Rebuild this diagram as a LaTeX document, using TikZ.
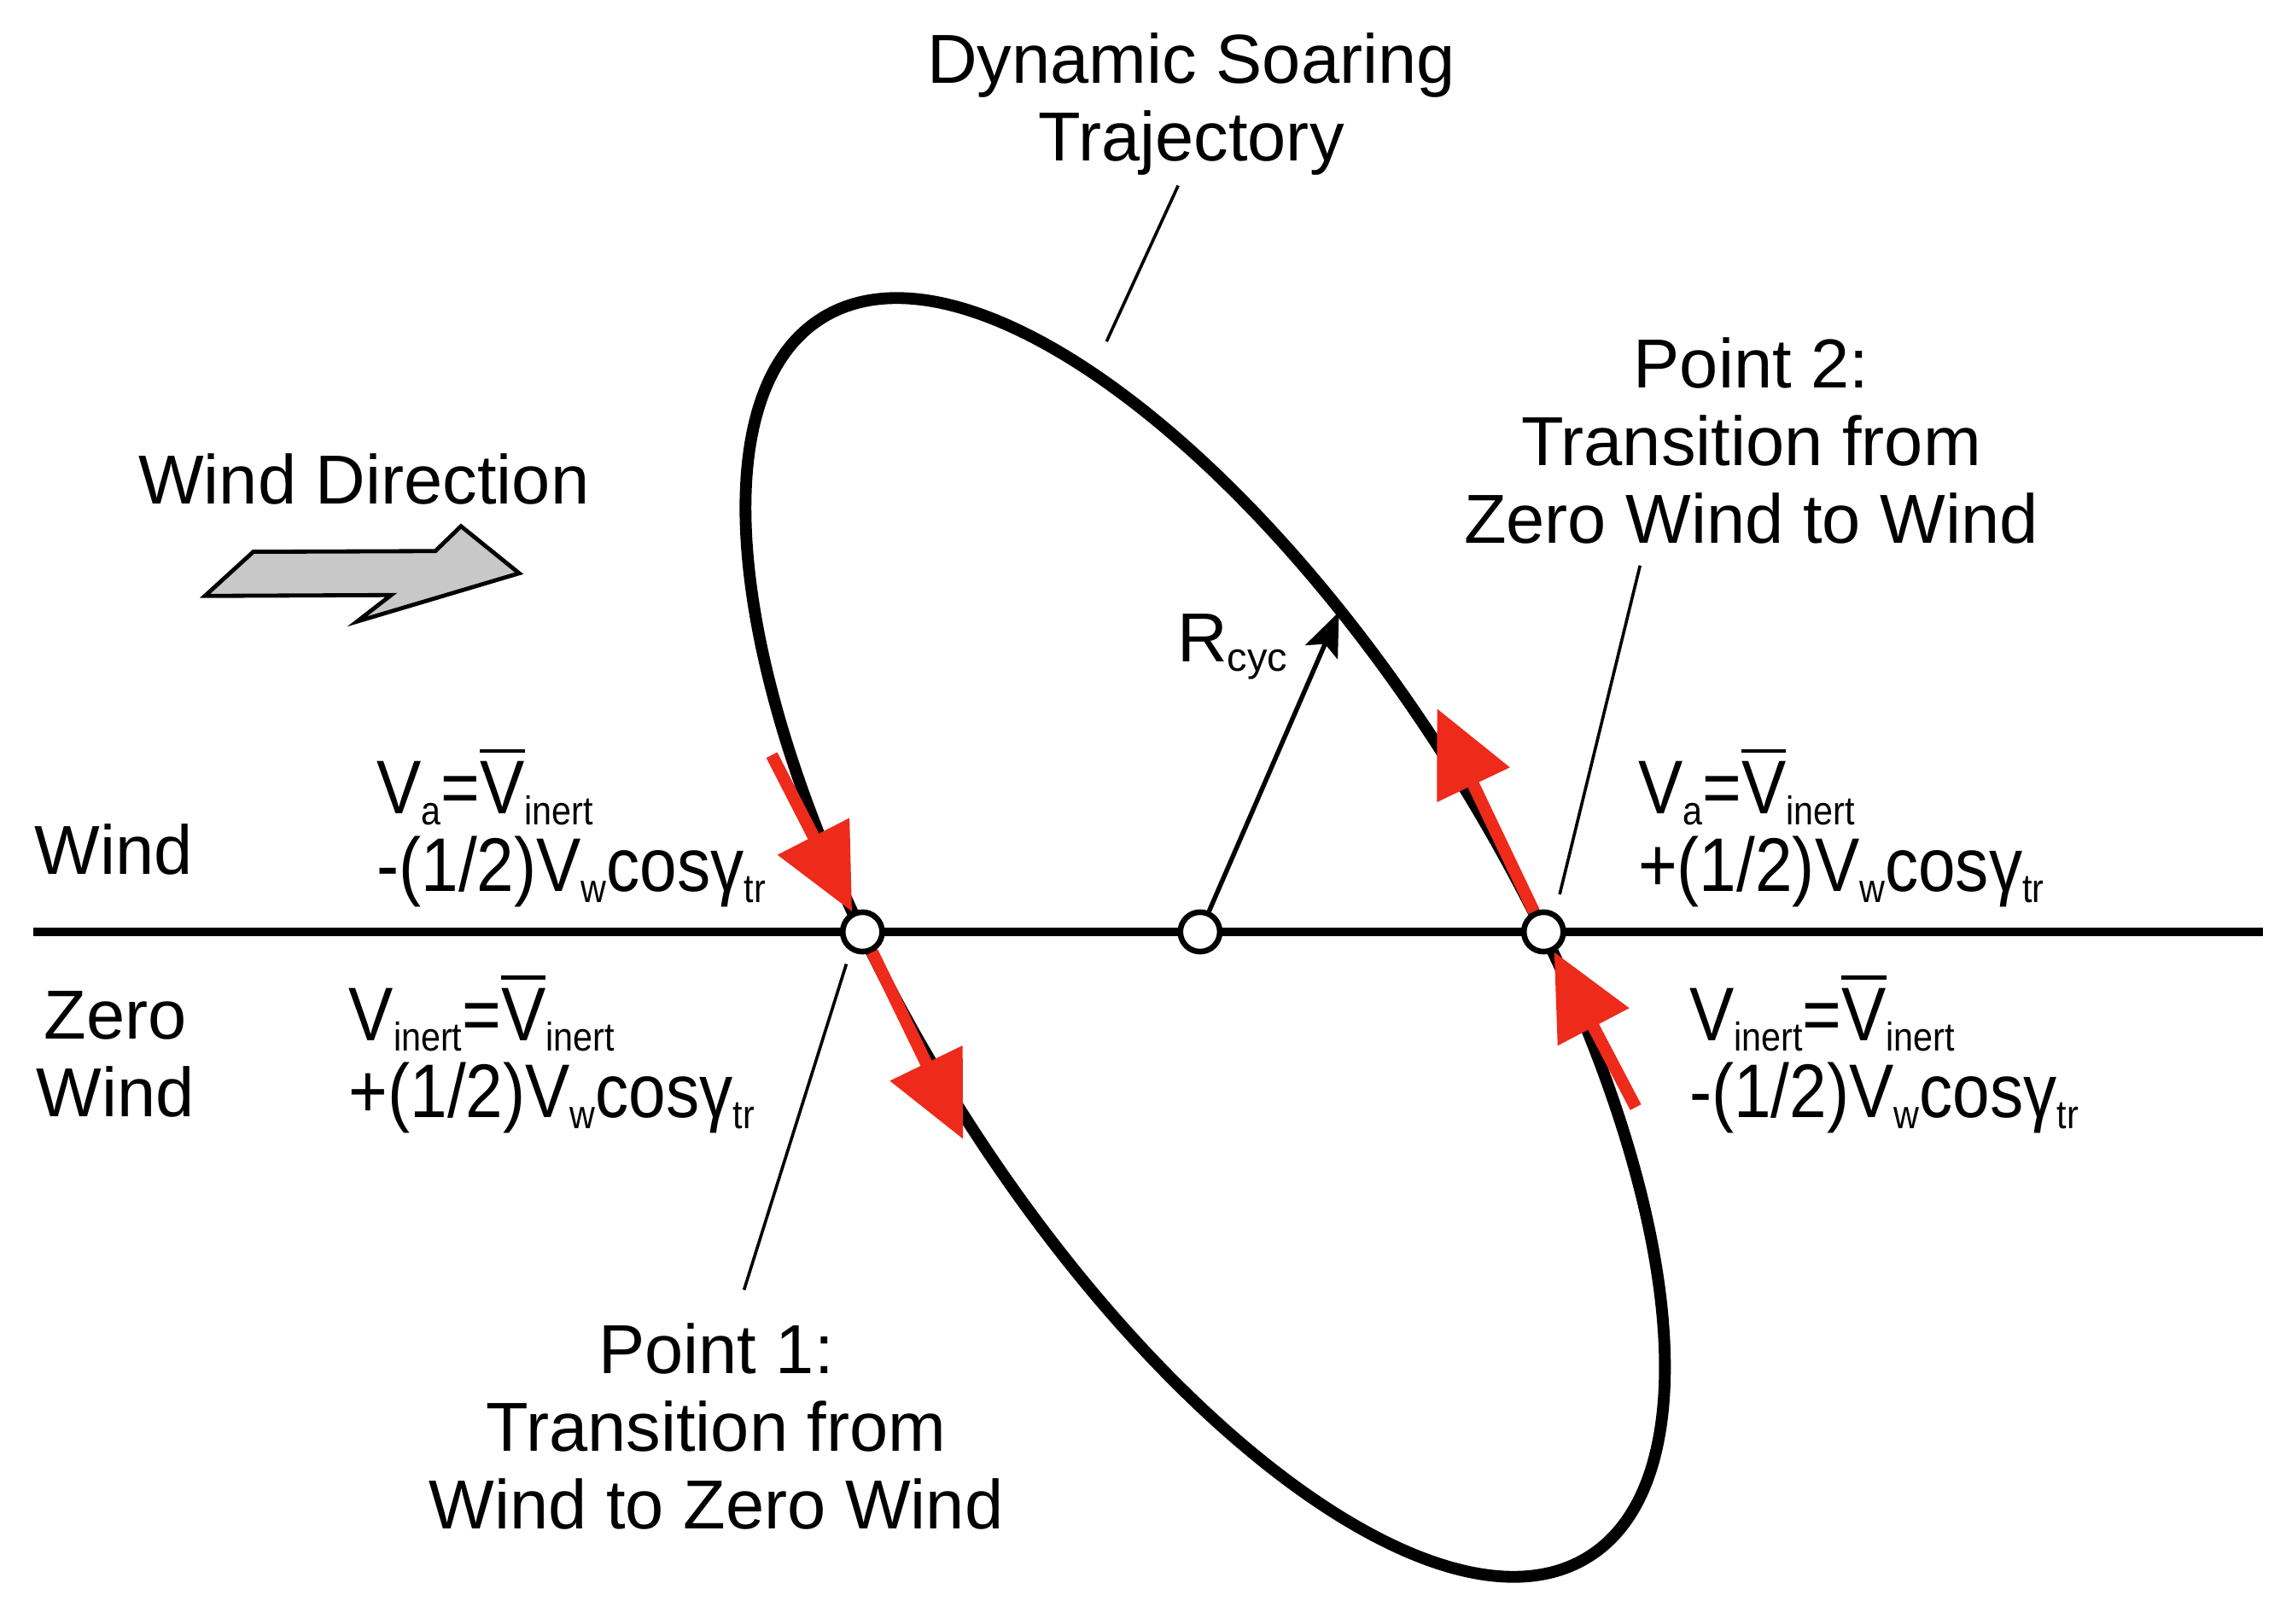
\documentclass[tikz,border=0pt]{standalone}
\usepackage{fontspec}
\setmainfont{Liberation Sans}
\newfontfamily\eqfont[FakeStretch=0.88]{Liberation Sans}
\usetikzlibrary{arrows.meta}
\definecolor{flowred}{HTML}{EE2A1B}
\definecolor{arrowgray}{HTML}{C8C8C8}
\newcommand\sub[1]{\raisebox{-0.14em}{\fontsize{7.8}{8}\selectfont #1}}
\newcommand\vbar{\setbox0\hbox{V}\rlap{\rule[0.8em]{\wd0}{0.055em}}\box0}

\begin{document}
\begin{tikzpicture}[
  lbl/.style={inner sep=0pt,align=center,font=\fontsize{13.5}{15.1}\selectfont},
  eqn/.style={inner sep=0pt,align=left,anchor=base west,font=\eqfont\fontsize{14.8}{15.1}\selectfont},
  pt/.style={circle,draw,fill=white,line width=1.1pt,minimum size=0.27cm,inner sep=0pt},
  vel/.style={flowred,line width=2.4pt,-{Triangle[length=0.58cm,width=0.53cm]}},
  lead/.style={line width=0.6pt}]
\useasboundingbox (-8.21,-4.733) rectangle (7.47,6.377);
% wind / zero wind boundary and the trajectory
\coordinate (wl) at (-7.98,0);
\coordinate (wr) at (7.27,0);
\draw[line width=1.7pt] (wl)--(wr);
\draw[line width=2.3pt,shift={(0.035,-0.038)},rotate=-58.3] (0,0) ellipse (4.984 and 2.046);
% wind direction arrow
\draw[line width=0.8pt,fill=arrowgray] (-6.808,2.299)--(-6.477,2.601)--(-5.232,2.606)--(-5.056,2.776)--(-4.658,2.454)--(-5.767,2.124)--(-5.534,2.305)--cycle;
\node[lbl,anchor=base] (wdir) at (-5.72,2.93) {Wind Direction};
% points on the boundary
\node[pt] (P1) at (-2.31,0) {};
\node[pt] (C) at (0,0) {};
\node[pt] (P2) at (2.35,0) {};
% velocity arrows
\coordinate (v1) at (-2.93,1.21);
\coordinate (v2) at (-1.62,-1.42);
\coordinate (v3) at (1.62,1.53);
\coordinate (v4) at (2.98,-1.20);
\draw[vel] (v1)--(P1);
\draw[vel] (P1)--(v2);
\draw[vel] (P2)--(v3);
\draw[vel] (v4)--(P2);
% radius
\coordinate (rt) at (0.95,2.19);
\draw[line width=0.9pt,-{Stealth[length=0.3cm,width=0.24cm,inset=0.06cm]}] (C)--(rt);
\node[lbl,anchor=base west] (rcyc) at (-0.163,1.851) {R\sub{cyc}};
% labels (base = last line)
\node[lbl,anchor=base] (traj) at (-0.06,5.277) {Dynamic Soaring\\Trajectory};
\node[lbl,anchor=base west] (wind) at (-7.98,0.397) {Wind};
\node[lbl,anchor=base] (zero) at (-7.42,-1.263) {Zero\\Wind};
\node[lbl,anchor=base] (pt2) at (3.77,2.66) {Point 2:\\Transition from\\Zero Wind to Wind};
\node[lbl,anchor=base] (pt1) at (-3.31,-4.086) {Point 1:\\Transition from\\Wind to Zero Wind};
\coordinate (t1) at (-0.15,5.107); \coordinate (t2) at (-0.64,4.04);
\coordinate (q1) at (3.01,2.507); \coordinate (q2) at (2.46,0.257);
\coordinate (s1) at (-2.42,-0.22); \coordinate (s2) at (-3.12,-2.45);
\draw[lead] (t1)--(t2);
\draw[lead] (q1)--(q2);
\draw[lead] (s1)--(s2);
% speeds
\node[eqn] (ewl) at (-5.64,0.277) {V\sub{a}=\vbar\sub{inert}\\-(1/2)V\sub{w}cosγ\sub{tr}};
\node[eqn] (ezl) at (-5.83,-1.273) {V\sub{inert}=\vbar\sub{inert}\\+(1/2)V\sub{w}cosγ\sub{tr}};
\node[eqn] (ewr) at (2.99,0.277) {V\sub{a}=\vbar\sub{inert}\\+(1/2)V\sub{w}cosγ\sub{tr}};
\node[eqn] (ezr) at (3.34,-1.273) {V\sub{inert}=\vbar\sub{inert}\\-(1/2)V\sub{w}cosγ\sub{tr}};
\end{tikzpicture}
\end{document}
